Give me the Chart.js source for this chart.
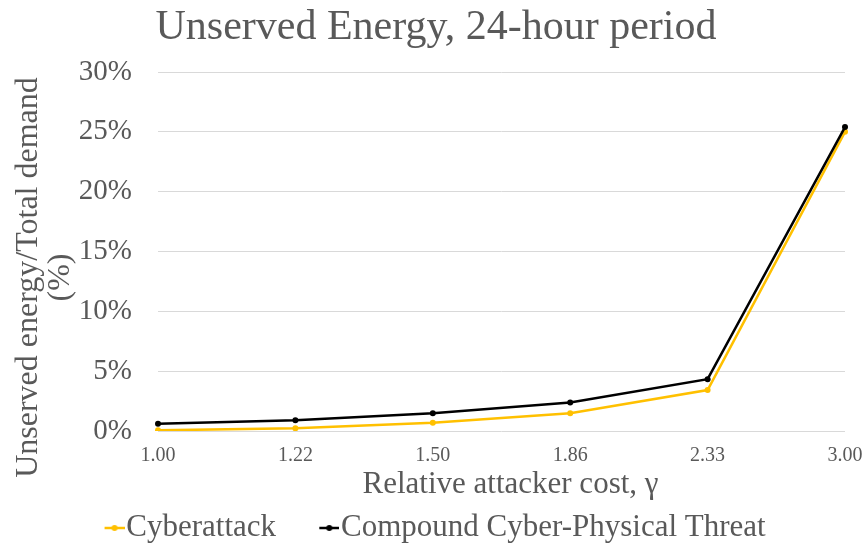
<!DOCTYPE html>
<html>
<head>
<meta charset="utf-8">
<script src="https://cdn.jsdelivr.net/npm/chart.js@4/dist/chart.umd.min.js"></script>
<style>
  html, body { margin: 0; padding: 0; background: #ffffff; }
  #wrap { width: 867px; height: 545px; }
</style>
</head>
<body>
<div id="wrap"><canvas id="chart" width="867" height="545"></canvas></div>
<script>
// Relative attacker cost (gamma) values on the horizontal axis
const categories = ['1.00', '1.22', '1.50', '1.86', '2.33', '3.00'];

// Unserved energy as a share of total demand, in percent
const cyberattack = [0.06, 0.22, 0.69, 1.48, 3.42, 25.0];
const compoundThreat = [0.61, 0.89, 1.48, 2.39, 4.33, 25.4];

const seriesNames = ['Cyberattack', 'Compound Cyber-Physical Threat'];
const seriesColors = ['#FFC000', '#000000'];

const textColor = '#595959';
const gridColor = '#D9D9D9';
const serif = "'Liberation Serif', 'Times New Roman', serif";

// Legend marker: a short line with a dot. The image is wider than the legend
// box and the mark sits at its right end, right next to the label text.
function legendMarker(color) {
  const c = document.createElement('canvas');
  c.width = 32;
  c.height = 12;
  const g = c.getContext('2d');
  g.strokeStyle = color;
  g.lineWidth = 2.5;
  g.beginPath();
  g.moveTo(12, 6);
  g.lineTo(32, 6);
  g.stroke();
  g.fillStyle = color;
  g.beginPath();
  g.arc(22, 6, 3, 0, Math.PI * 2);
  g.fill();
  return c;
}
const markers = seriesColors.map(legendMarker);

// Nudge an axis title away from its default spot.
function shiftTitle(scale, dx, dy) {
  if (scale._titleShifted) return;
  const base = scale.drawTitle;
  scale.drawTitle = function () {
    const ctx = this.ctx;
    ctx.save();
    ctx.translate(dx, dy);
    base.call(this);
    ctx.restore();
  };
  scale._titleShifted = true;
}

new Chart(document.getElementById('chart'), {
  type: 'line',
  data: {
    labels: categories,
    datasets: [
      {
        label: seriesNames[0],
        data: cyberattack,
        borderColor: seriesColors[0],
        backgroundColor: seriesColors[0],
        borderWidth: 2.5,
        pointRadius: 3,
        pointBorderWidth: 0,
        tension: 0,
        order: 2
      },
      {
        label: seriesNames[1],
        data: compoundThreat,
        borderColor: seriesColors[1],
        backgroundColor: seriesColors[1],
        borderWidth: 2.5,
        pointRadius: 3,
        pointBorderWidth: 0,
        tension: 0,
        order: 1
      }
    ]
  },
  options: {
    responsive: false,
    animation: false,
    layout: { padding: { left: 27, right: 22, top: 0, bottom: -8.5 } },
    plugins: {
      title: {
        display: true,
        text: 'Unserved Energy, 24-hour period',
        color: textColor,
        font: { family: serif, size: 42, weight: 'normal', lineHeight: 1.2 },
        padding: { top: 3, bottom: 18.6 }
      },
      legend: {
        position: 'bottom',
        labels: {
          color: textColor,
          font: { family: serif, size: 31 },
          usePointStyle: true,
          pointStyleWidth: 4.5,
          padding: 45,
          sort: (a, b) => a.datasetIndex - b.datasetIndex,
          generateLabels(chart) {
            const items = Chart.defaults.plugins.legend.labels.generateLabels(chart);
            items.forEach((it) => { it.pointStyle = markers[it.datasetIndex]; });
            return items;
          }
        }
      },
      tooltip: { enabled: false }
    },
    scales: {
      x: {
        type: 'category',
        offset: false,
        afterFit(scale) {
          scale.height = 36.5;
          shiftTitle(scale, 9, 36.1);
        },
        grid: { display: true, color: 'rgba(0,0,0,0)', drawOnChartArea: false, drawTicks: true, tickLength: 13 },
        border: { display: false },
        ticks: {
          color: textColor,
          font: { family: serif, size: 20 },
          padding: 0,
          maxRotation: 0,
          autoSkip: false
        },
        title: {
          display: true,
          text: 'Relative attacker cost, γ',
          color: textColor,
          font: { family: serif, size: 31, lineHeight: 1.2 },
          padding: { top: 0, bottom: 0 }
        }
      },
      y: {
        min: 0,
        max: 30,
        afterFit(scale) {
          scale.width = 131;
          shiftTitle(scale, -15, 26);
        },
        grid: { color: gridColor, lineWidth: 1, drawTicks: false },
        border: { display: false },
        ticks: {
          stepSize: 5,
          color: textColor,
          font: { family: serif, size: 29 },
          padding: 26,
          callback: (v) => v + '%'
        },
        title: {
          display: true,
          text: ['Unserved energy/Total demand', '(%)'],
          color: textColor,
          font: { family: serif, size: 32, lineHeight: 1.02 },
          padding: { top: 0, bottom: 0 }
        }
      }
    }
  }
});
</script>
</body>
</html>
